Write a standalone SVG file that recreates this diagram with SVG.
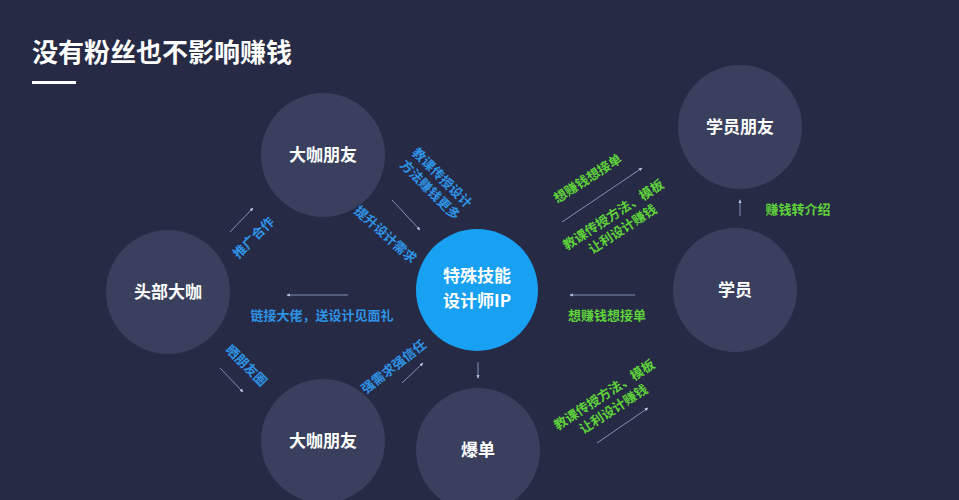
<svg xmlns="http://www.w3.org/2000/svg" width="959" height="500" viewBox="0 0 959 500">
<defs>
<marker id="ah" viewBox="0 0 6 6" refX="5" refY="3" markerWidth="4" markerHeight="4" orient="auto-start-reverse">
<path d="M0,0.5 L6,3 L0,5.5 z" fill="#b4c0de"/>
</marker>
<style>
.node{fill:#3a3f5e}
.ip{fill:#18a0f2}
.nt{font-family:"Noto Sans CJK SC","Noto Sans",sans-serif;font-weight:bold;font-size:17px;fill:#ffffff;text-anchor:middle}
.bl{font-family:"Noto Sans CJK SC","Noto Sans",sans-serif;font-weight:bold;font-size:13px;fill:#2f93e6;text-anchor:middle}
.gr{font-family:"Noto Sans CJK SC","Noto Sans",sans-serif;font-weight:bold;font-size:13px;fill:#5fd13b;text-anchor:middle}
.ar{stroke:#8391b8;stroke-width:1;fill:none;marker-end:url(#ah)}
</style>
</defs>
<rect width="959" height="500" fill="#262a44"/>
<text x="32" y="62" font-family="Noto Sans CJK SC, Noto Sans, sans-serif" font-weight="bold" font-size="26" fill="#ffffff">没有粉丝也不影响赚钱</text>
<rect x="32" y="81" width="44" height="3" fill="#ffffff"/>

<g id="dakapengyou-top"><circle class="node" cx="323" cy="155" r="62"/><text class="nt" x="323" y="161">大咖朋友</text></g>
<g id="toubudaka"><circle class="node" cx="168" cy="292" r="62"/><text class="nt" x="168" y="298">头部大咖</text></g>
<g id="dakapengyou-bottom"><circle class="node" cx="323" cy="441" r="62"/><text class="nt" x="323" y="447">大咖朋友</text></g>
<g id="baodan"><circle class="node" cx="478" cy="450" r="62"/><text class="nt" x="478" y="456">爆单</text></g>
<g id="xueyuanpengyou"><circle class="node" cx="740" cy="127" r="62"/><text class="nt" x="740" y="133">学员朋友</text></g>
<g id="xueyuan"><circle class="node" cx="735" cy="290" r="62"/><text class="nt" x="735" y="296">学员</text></g>
<g id="ip"><circle class="ip" cx="477" cy="290" r="61"/><text class="nt" x="477" y="282">特殊技能</text><text class="nt" x="477" y="307">设计师IP</text></g>

<g id="connectors">
<line class="ar" x1="230" y1="232" x2="253" y2="208"/>
<line class="ar" x1="392" y1="200" x2="420" y2="230"/>
<line class="ar" x1="348" y1="295" x2="287" y2="295"/>
<line class="ar" x1="220" y1="368" x2="243" y2="392"/>
<line class="ar" x1="402" y1="383" x2="423" y2="363"/>
<line class="ar" x1="562" y1="222" x2="642" y2="168"/>
<line class="ar" x1="635" y1="295" x2="570" y2="295"/>
<line class="ar" x1="740" y1="216" x2="740" y2="200"/>
<line class="ar" x1="597" y1="443" x2="648" y2="408"/>
<line class="ar" x1="478" y1="362" x2="478" y2="378"/>
</g>

<g id="labels">
<text class="bl" transform="translate(254,238) rotate(-45)" y="4">推广合作</text>
<g transform="translate(436,184) rotate(45)"><text class="bl" y="-4">教课传授设计</text><text class="bl" y="13">方法赚钱更多</text></g>
<text class="bl" transform="translate(385,235) rotate(42)" y="4">提升设计需求</text>
<text class="bl" x="322" y="320">链接大佬，送设计见面礼</text>
<text class="bl" transform="translate(246,366) rotate(45)" y="4">晒朋友圈</text>
<text class="bl" transform="translate(394,367) rotate(-38)" y="4">强需求强信任</text>
<text class="gr" transform="translate(588,179) rotate(-33)" y="4">想赚钱想接单</text>
<g transform="translate(618,222) rotate(-33)"><text class="gr" y="-4">教课传授方法、模板</text><text class="gr" y="13">让利设计赚钱</text></g>
<text class="gr" x="607" y="320">想赚钱想接单</text>
<text class="gr" x="798" y="214">赚钱转介绍</text>
<g transform="translate(609,402) rotate(-33)"><text class="gr" y="-4">教课传授方法、模板</text><text class="gr" y="13">让利设计赚钱</text></g>
</g>
</svg>
